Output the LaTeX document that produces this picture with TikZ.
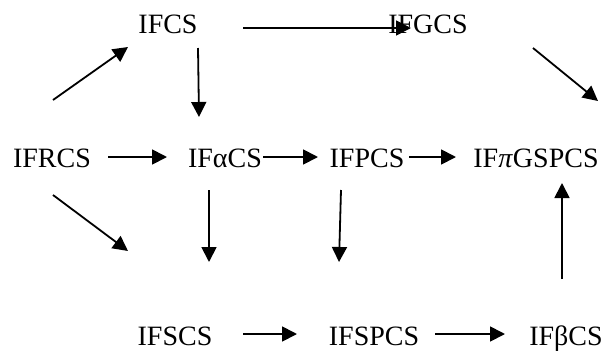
\documentclass[tikz,border=0pt]{standalone}
\usepackage{fontspec}
\setmainfont{Liberation Serif}
\usetikzlibrary{arrows.meta}
\begin{document}
\begin{tikzpicture}[x=1pt,y=-1pt,
  lbl/.style={anchor=base,inner sep=0pt,font=\fontsize{28}{31}\selectfont},
  arr/.style={line width=1.8pt,-{Triangle[length=15pt,width=15pt]}}]
\useasboundingbox (0,0) rectangle (613,354);
% nodes
\node[lbl] (ifcs)  at (168,33)  {IFCS};
\node[lbl] (ifgcs) at (428,33)  {IFGCS};
\node[lbl] (ifrcs) at (52,167)  {IFRCS};
\node[lbl] (ifacs) at (225,167) {IFαCS};
\node[lbl] (ifpcs) at (367,167) {IFPCS};
\node[lbl] (ifpi)  at (536,167) {IF\textit{π}GSPCS};
\node[lbl] (ifscs) at (175,345) {IFSCS};
\node[lbl] (ifspcs) at (374,345) {IFSPCS};
\node[lbl] (ifbcs) at (566,345) {IFβCS};
% arrow end points
\coordinate (a1s) at (243,28);  \coordinate (a1e) at (411,28);
\coordinate (a2s) at (53,100);  \coordinate (a2e) at (128,47);
\coordinate (a3s) at (198,48);  \coordinate (a3e) at (199,117);
\coordinate (a4s) at (533,48);  \coordinate (a4e) at (598,101);
\coordinate (a5s) at (108,157); \coordinate (a5e) at (167,157);
\coordinate (a6s) at (263,157); \coordinate (a6e) at (318,157);
\coordinate (a7s) at (409,157); \coordinate (a7e) at (456,157);
\coordinate (a8s) at (53,195);  \coordinate (a8e) at (128,251);
\coordinate (a9s) at (209,190); \coordinate (a9e) at (209,262);
\coordinate (a10s) at (341,190); \coordinate (a10e) at (339,262);
\coordinate (a11s) at (562,279); \coordinate (a11e) at (562,183);
\coordinate (a12s) at (243,334); \coordinate (a12e) at (297,334);
\coordinate (a13s) at (435,334); \coordinate (a13e) at (505,334);
% arrows
\foreach \i in {1,...,13}{\draw[arr] (a\i s) -- (a\i e);}
\end{tikzpicture}
\end{document}
